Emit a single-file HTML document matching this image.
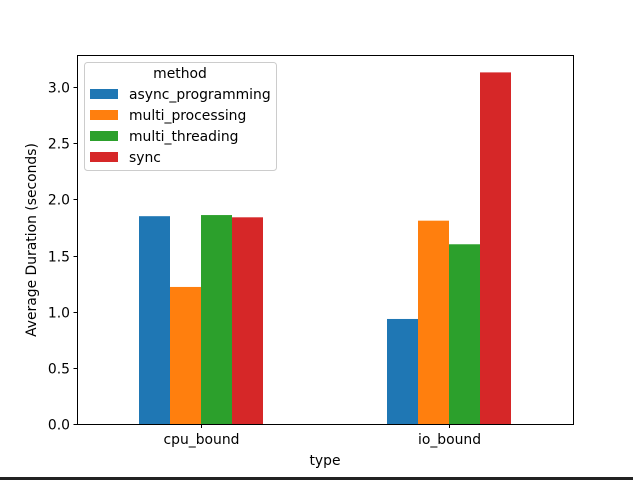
<!DOCTYPE html>
<html><head><meta charset="utf-8"><style>
html,body{margin:0;padding:0;background:#fff;width:633px;height:480px;overflow:hidden}
svg{display:block;font-family:"DejaVu Sans","Liberation Sans",sans-serif}
</style></head><body>
<svg id="chart" width="633" height="480">
<rect x="0" y="477" width="633" height="3" fill="#222"/>
<g id="bars"></g>
<rect x="77.5" y="55.5" width="496" height="369" fill="none" stroke="#000" stroke-width="1"/>
<g id="axes"></g>
<text x="325" y="465" font-size="13.9" text-anchor="middle">type</text>
<text transform="translate(36,240) rotate(-90)" font-size="13.9" text-anchor="middle">Average Duration (seconds)</text>
<g id="legend"></g>
</svg>
<script>
const categories = ["cpu_bound","io_bound"];
const seriesNames = ["async_programming","multi_processing","multi_threading","sync"];
const asyncVals = [1.85, 0.935];
const multiProcVals = [1.22, 1.81];
const multiThreadVals = [1.86, 1.60];
const syncVals = [1.84, 3.13];
const yTicks = [0,0.5,1.0,1.5,2.0,2.5,3.0];
const yTickLabels = ["0.0","0.5","1.0","1.5","2.0","2.5","3.0"];

const colors = ["#1f77b4","#ff7f0e","#2ca02c","#d62728"];
const series = [asyncVals, multiProcVals, multiThreadVals, syncVals];
const NS = "http://www.w3.org/2000/svg";
const L=77, R=573, T=55, B=424;
const ymin=0, ymax=(B-T)/((B-87)/3.0);
const y = v => B - (v-ymin)/(ymax-ymin)*(B-T);
const x = c => L + (c+0.5)/2*(R-L);
const bw = 0.125*(R-L)/2;
function mk(tag, attrs, parent){const e=document.createElementNS(NS,tag);for(const k in attrs)e.setAttribute(k,attrs[k]);parent.appendChild(e);return e;}
const bars=document.getElementById('bars');
series.forEach((s,si)=>{
  s.forEach((v,ci)=>{
    const r=mk('rect',{x:x(ci)+(si-2)*bw, y:y(v), width:bw, height:y(0)-y(v), fill:colors[si]},bars);
    
    
  });
});
const axes=document.getElementById('axes');
yTicks.forEach((t,i)=>{
  const yy=Math.round(y(t))+0.5;
  const l=mk('line',{x1:L-3.5,x2:L+0.5,y1:yy,y2:yy,stroke:'#000'},axes);
  
  
  const tx=mk('text',{x:L-7,y:yy+5,'font-size':13.9,'text-anchor':'end'},axes);
  tx.textContent=yTickLabels[i];
  
  
});
categories.forEach((c,i)=>{
  const xx=Math.round(x(i))+0.5;
  const l=mk('line',{x1:xx,x2:xx,y1:B+0.5,y2:B+4,stroke:'#000'},axes);
  
  
  const tx=mk('text',{x:xx,y:B+20,'font-size':13.9,'text-anchor':'middle'},axes);
  tx.textContent=c;
  
  
});
const lg=document.getElementById('legend');
const box=mk('rect',{x:84.5,y:62.5,width:192,height:108,rx:3,fill:'#fff','fill-opacity':0.8,stroke:'#ccc'},lg);


const tt=mk('text',{x:180,y:78,'font-size':13.9,'text-anchor':'middle'},lg);
tt.textContent='method';


seriesNames.forEach((n,i)=>{
  const yy=94+i*21;
  const sw=mk('rect',{x:90,y:yy-5,width:28,height:10,fill:colors[i]},lg);
  
  
  const t=mk('text',{x:129,y:yy+5,'font-size':13.9},lg);
  t.textContent=n;
  
  
});
</script>
</body></html>
